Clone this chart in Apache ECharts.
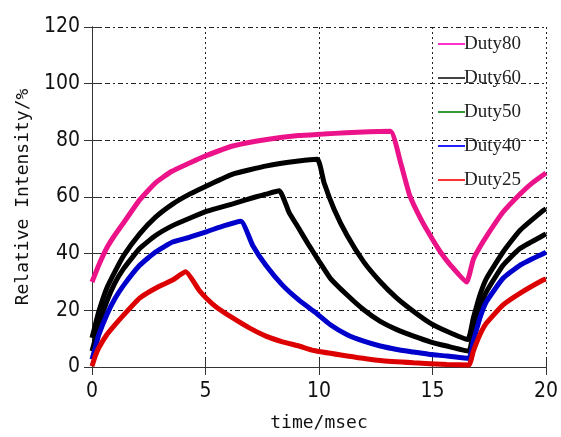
<!DOCTYPE html>
<html>
<head>
<meta charset="utf-8">
<script src="https://cdn.jsdelivr.net/npm/echarts@6/dist/echarts.min.js"></script>
<style>
  html, body { margin: 0; padding: 0; background: #fff; }
  #chart { width: 561px; height: 437px; }
</style>
</head>
<body>
<div id="chart"></div>
<script>
// 読み取った値 [time(ms), relative intensity(%)]
const seriesNames = ['Duty80', 'Duty60', 'Duty50', 'Duty40', 'Duty25'];
const xTicks = [0, 5, 10, 15, 20];
const yTicks = [0, 20, 40, 60, 80, 100, 120];

const duty80 = [
  [0, 30], [0.3, 36], [0.65, 42], [1, 46.5], [1.4, 51], [2.1, 59], [2.8, 65], [3.5, 69],
  [4.3, 72], [5, 74.5], [6.2, 78], [7.7, 80.3], [9.1, 81.7], [10.2, 82.2], [11.2, 82.7],
  [12.2, 83], [13.15, 83.2], [13.6, 72], [14, 60.5], [14.5, 52], [14.9, 46.4], [15.35, 40.6],
  [15.8, 35.9], [16.5, 30], [16.8, 38], [17.1, 42.5], [17.4, 46.4], [18.1, 54.6], [18.85, 61],
  [19.4, 65], [20, 68.5]
];
const duty60 = [
  [0, 10.3], [0.15, 15], [0.3, 19.6], [0.65, 27.8], [1, 33.5], [1.4, 39.4], [2.1, 47], [2.8, 52.9],
  [3.55, 57.5], [4.3, 61], [5.07, 64], [6.2, 68.1], [7.7, 71], [9.1, 72.7], [9.93, 73.3],
  [10.22, 65.1], [10.66, 55.8], [11.24, 46.4], [11.97, 37.1], [12.7, 30.1], [13.43, 24.3],
  [14.17, 19.6], [14.9, 15.5], [15.63, 12.6], [16.55, 9.7], [16.8, 17.3], [17.09, 25.4],
  [17.38, 31.3], [18.11, 40.6], [18.85, 48.2], [19.87, 55.2], [20, 55.8]
];
const duty50 = [
  [0, 5.6], [0.15, 10], [0.3, 14.9], [0.65, 23.1], [1, 29.5], [1.4, 34.8], [2.1, 41.8], [2.8, 46.4],
  [3.55, 49.9], [4.3, 52.5], [5.07, 55], [6.2, 57.6], [7.2, 60], [7.66, 61], [8.25, 62.2],
  [8.68, 54.6], [9.12, 48.8], [9.56, 42.9], [10, 37.4], [10.5, 31.3], [11.24, 25.4], [11.97, 20.2],
  [12.7, 16.1], [13.43, 13.2], [14.17, 10.9], [14.9, 8.9], [15.63, 7.4], [16.6, 5.6], [16.8, 12.6],
  [17.09, 20.8], [17.38, 26.6], [18.11, 35.9], [18.85, 41.8], [19.87, 46.4], [20, 47]
];
const duty40 = [
  [0, 2.7], [0.15, 7], [0.3, 11.4], [0.65, 18.4], [1, 24], [1.4, 28.9], [2.1, 35.9], [2.8, 40.6],
  [3.55, 44.1], [4.3, 45.8], [5.07, 47.8], [5.6, 49.3], [6.56, 51.4], [7.08, 42.9], [7.66, 35.9],
  [8.39, 28.9], [9.12, 23.6], [9.85, 19.2], [10.5, 14.9], [11.24, 11.4], [11.97, 9.1], [12.7, 7.4],
  [13.43, 6.2], [14.17, 5.3], [14.9, 4.4], [15.63, 3.9], [16.6, 3], [16.8, 9.1], [17.09, 17.3],
  [17.38, 23.1], [18.11, 31.3], [18.85, 35.9], [19.87, 40], [20, 40.5]
];
const duty25 = [
  [0, 0.3], [0.15, 4], [0.3, 6.8], [0.65, 11.4], [1, 14.8], [1.4, 18.4], [2.1, 24.3], [2.8, 27.8],
  [3.55, 30.7], [4.13, 33.6], [4.71, 27.2], [5.07, 24], [5.47, 21.2], [6.2, 17.3], [6.93, 13.8],
  [7.66, 10.9], [8.39, 8.9], [9.12, 7.4], [9.78, 5.8], [11.24, 3.9], [12.7, 2.3], [14.17, 1.5],
  [15.63, 0.9], [16.6, 0.7], [16.8, 5.6], [17.09, 11.4], [17.38, 15.5], [18.11, 21.9], [18.85, 26],
  [19.87, 30.7], [20, 31]
];

const seriesData = [duty80, duty60, duty50, duty40, duty25];
const lineColors = ['#ec138a', '#000000', '#000000', '#0000cc', '#dd0000'];
const legendColors = ['#ff33cc', '#444444', '#339933', '#2222ff', '#ff3333'];

const tickFont = '"Liberation Sans Narrow", "DejaVu Sans Condensed", sans-serif';
const nameFont = '"DejaVu Sans Mono", monospace';

let chart = echarts.init(document.getElementById('chart'));

const frameLine = { show: true, lineStyle: { color: '#333', width: 1 } };
const innerTick = { show: true, inside: true, length: 8, lineStyle: { color: '#333' } };

let option = {
  animation: false,
  grid: { left: 92, right: 13, top: 27, bottom: 68 },
  legend: {
    orient: 'vertical',
    left: 433,
    top: 28,
    itemWidth: 27,
    itemHeight: 2,
    itemGap: 12,
    textStyle: {
      fontFamily: '"Liberation Serif", "Times New Roman", serif',
      fontSize: 19,
      lineHeight: 22,
      color: '#222',
      padding: [0, 0, 0, -6],
    },
    data: seriesNames.map((name, i) => ({
      name: name,
      icon: 'rect',
      itemStyle: { color: legendColors[i], borderWidth: 0 },
    })),
  },
  xAxis: [
    {
      type: 'value',
      min: xTicks[0],
      max: xTicks[xTicks.length - 1],
      interval: 5,
      name: 'time/msec',
      nameLocation: 'middle',
      nameGap: 47,
      nameTextStyle: { fontFamily: nameFont, fontSize: 18, color: '#111' },
      axisLine: frameLine,
      axisTick: innerTick,
      axisLabel: { fontFamily: tickFont, fontSize: 21, color: '#111', margin: 14 },
      splitLine: { show: true, lineStyle: { color: '#222', type: [2, 3] } },
    },
    {
      type: 'value',
      position: 'top',
      min: xTicks[0],
      max: xTicks[xTicks.length - 1],
      interval: 5,
      axisLine: frameLine,
      axisTick: innerTick,
      axisLabel: { show: false },
      splitLine: { show: false },
    },
  ],
  yAxis: [
    {
      type: 'value',
      min: yTicks[0],
      max: yTicks[yTicks.length - 1],
      interval: 20,
      name: 'Relative Intensity/%',
      nameLocation: 'middle',
      nameGap: 60,
      nameTextStyle: { fontFamily: nameFont, fontSize: 18, color: '#111' },
      axisLine: frameLine,
      axisTick: innerTick,
      axisLabel: { fontFamily: tickFont, fontSize: 21, color: '#111', margin: 12 },
      splitLine: { show: true, lineStyle: { color: '#222', type: [5, 3, 2, 3] } },
    },
    {
      type: 'value',
      position: 'right',
      min: yTicks[0],
      max: yTicks[yTicks.length - 1],
      interval: 20,
      axisLine: frameLine,
      axisTick: innerTick,
      axisLabel: { show: false },
      splitLine: { show: false },
    },
  ],
  series: seriesNames.map((name, i) => ({
    name: name,
    type: 'line',
    xAxisIndex: 0,
    yAxisIndex: 0,
    data: seriesData[i],
    symbol: 'none',
    smooth: 0.15,
    lineStyle: { color: lineColors[i], width: 5 },
    itemStyle: { color: lineColors[i] },
  })),
};

chart.setOption(option);
</script>
</body>
</html>
